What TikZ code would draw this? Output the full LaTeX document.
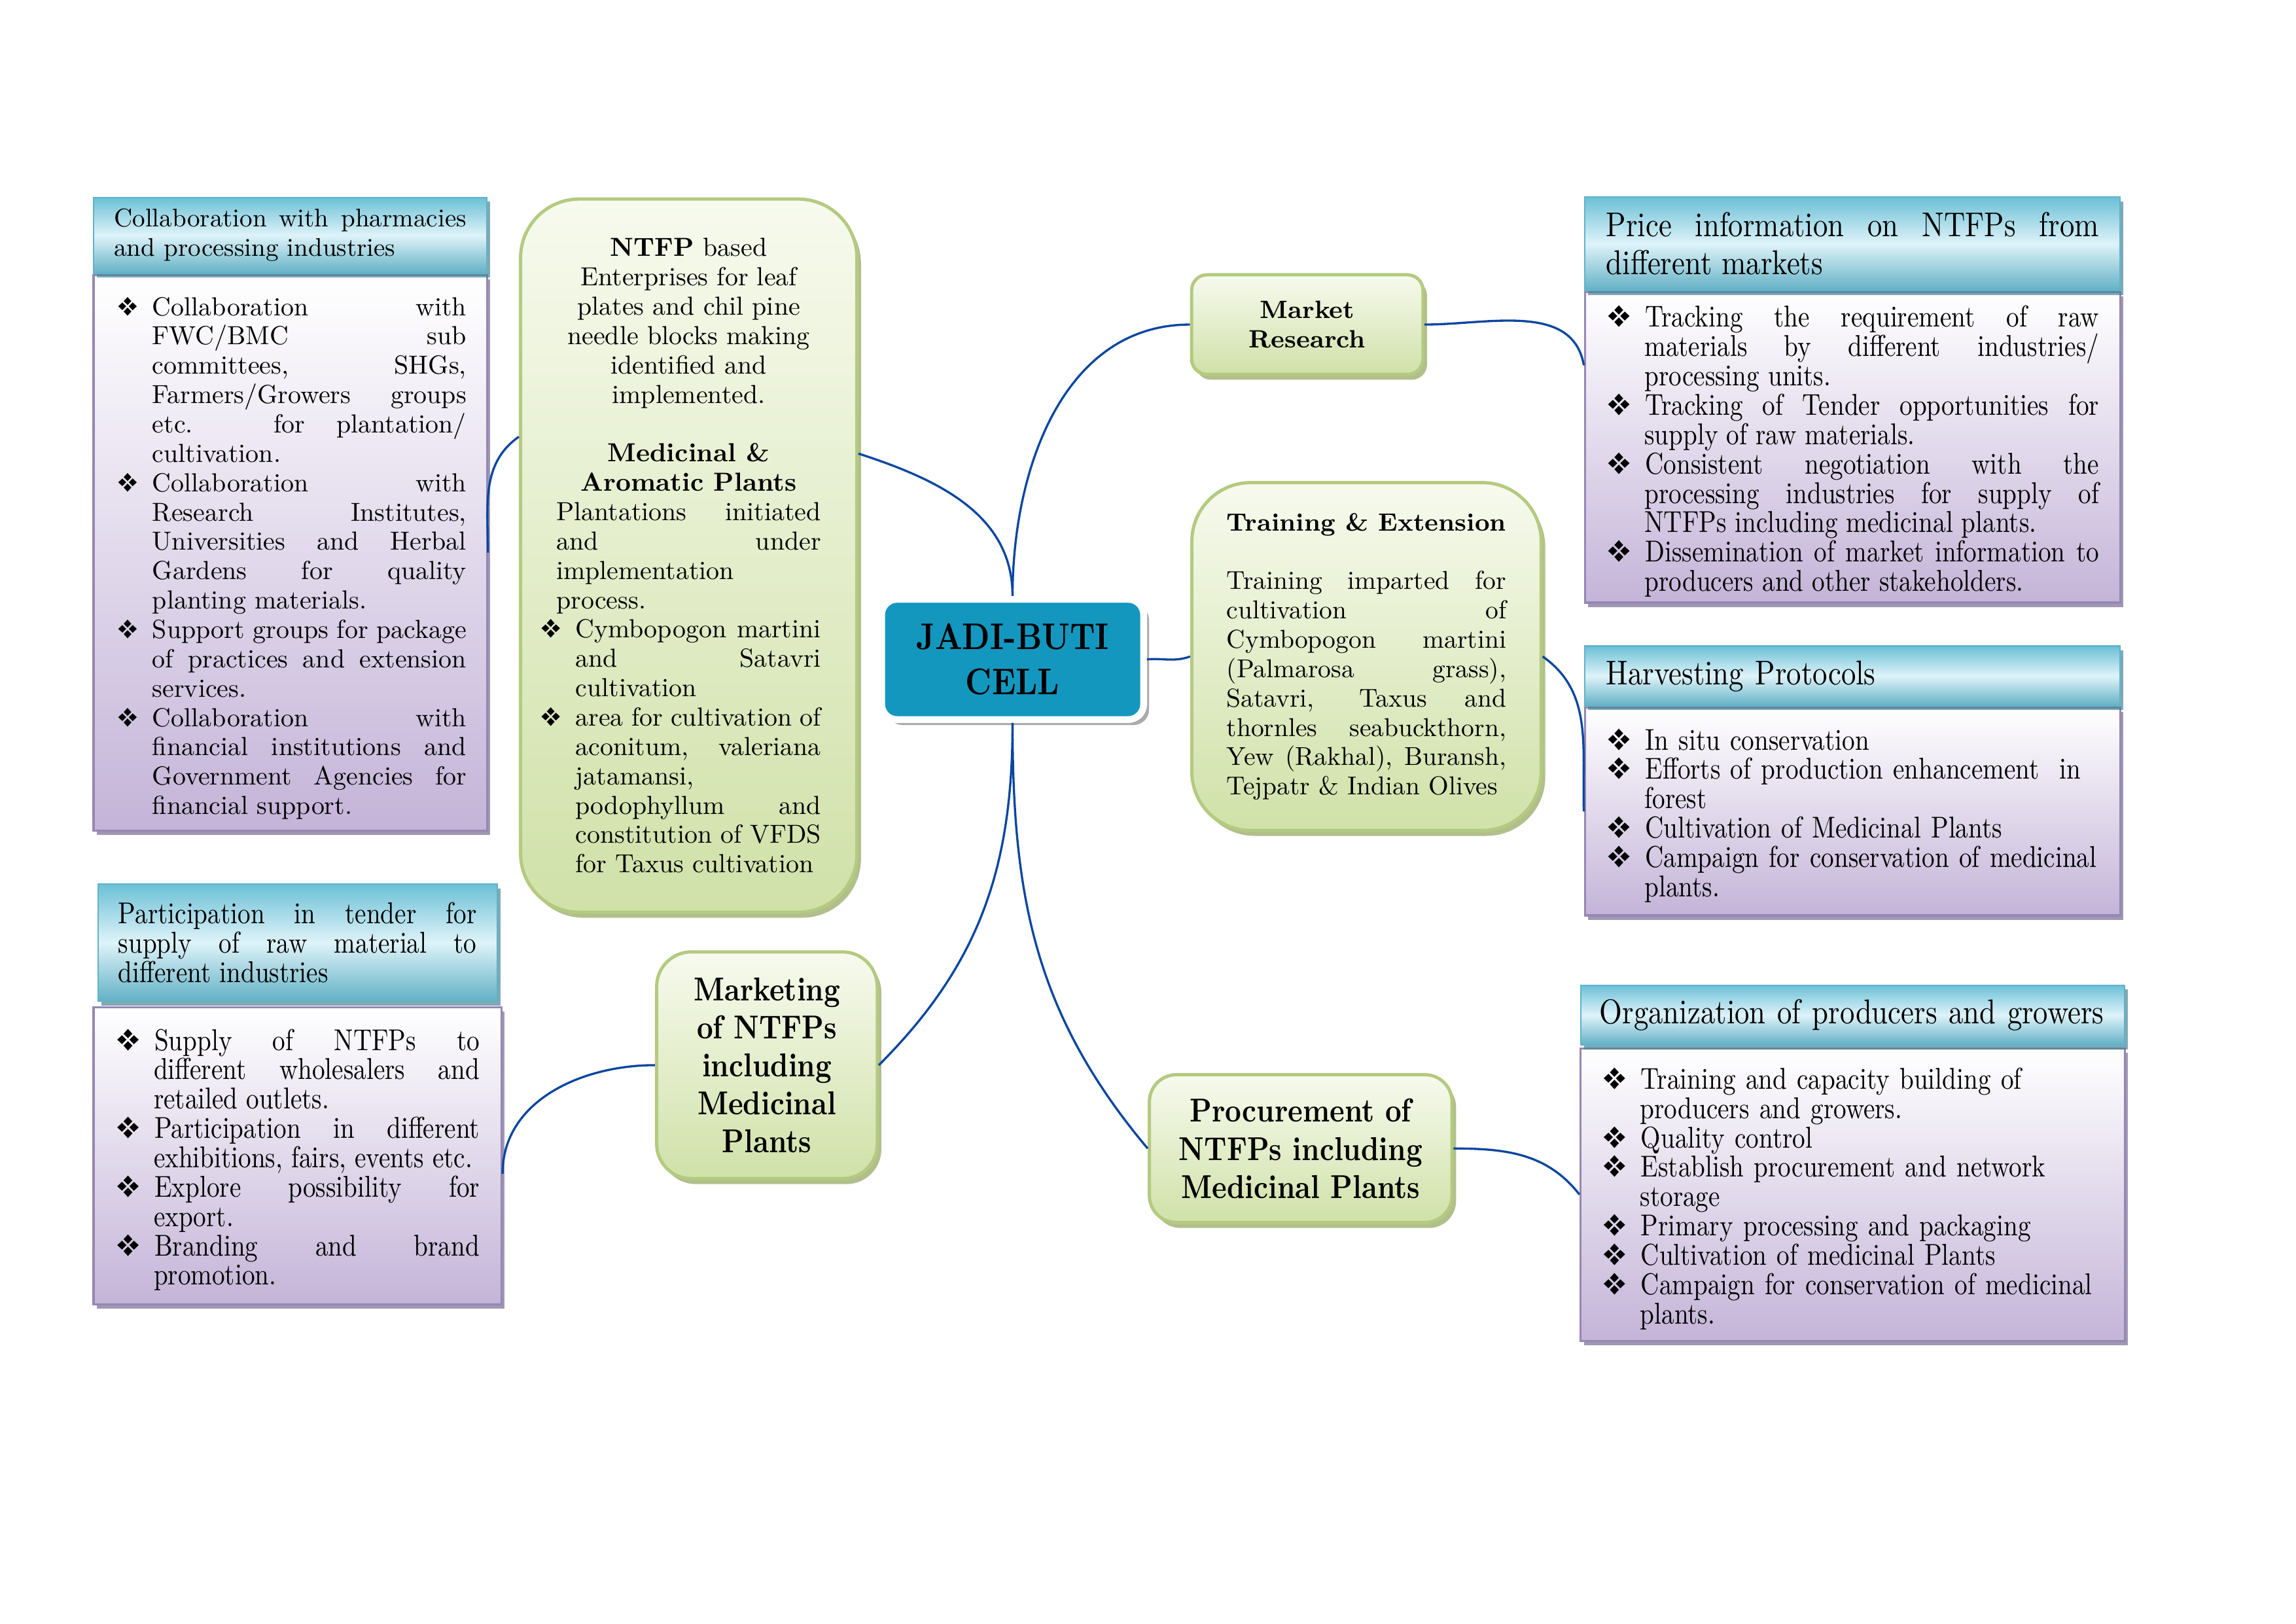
\documentclass[tikz,border=0pt]{standalone}
\usepackage{fontspec}
\usepackage{pifont}
\usetikzlibrary{positioning,shadows}
\newfontfamily\narrowfont{lmroman10}[Extension=.otf,UprightFont=*-regular,BoldFont=*-bold,ItalicFont=*-italic,BoldItalicFont=*-bolditalic,FakeStretch=0.85]

\definecolor{linkblue}{RGB}{10,70,160}
\definecolor{cyandark}{RGB}{108,192,214}
\definecolor{cyanlight}{RGB}{222,243,249}
\definecolor{cyanedge}{RGB}{96,178,202}
\definecolor{lilac}{RGB}{196,180,216}
\definecolor{lilacedge}{RGB}{150,135,180}
\definecolor{lilacshadow}{RGB}{135,125,160}
\definecolor{leaf}{RGB}{208,225,168}
\definecolor{leaftop}{RGB}{247,250,238}
\definecolor{leafedge}{RGB}{180,202,128}
\definecolor{leafshadow}{RGB}{158,176,112}
\definecolor{cellblue}{RGB}{20,151,191}

\newcommand{\txtfont}{\fontsize{9.7}{10.9}\selectfont}
\newcommand{\nartxt}{\narrowfont\fontsize{11.2}{10.9}\selectfont}
\newcommand{\nartitle}{\narrowfont\fontsize{12.8}{14.1}\selectfont}
\newenvironment{dmlist}[1][0.5cm]{\begin{list}{\ding{118}}{%
  \setlength{\leftmargin}{#1}\setlength{\labelsep}{0.19cm}%
  \setlength{\labelwidth}{0.3cm}\setlength{\itemindent}{0pt}%
  \setlength{\itemsep}{0pt}\setlength{\parsep}{0pt}%
  \setlength{\topsep}{0pt}\setlength{\partopsep}{0pt}}}{\end{list}}
\tolerance=10000
\hyphenpenalty=10000
\exhyphenpenalty=10000

\tikzset{
link/.style={draw=linkblue, line width=0.8pt},
titlebox/.style={draw=cyanedge, line width=0.5pt, top color=cyandark, bottom color=cyandark!92!black, middle color=cyanlight, inner ysep=0pt, align=justify, drop shadow={shadow xshift=1.2pt, shadow yshift=-1.6pt, fill=cyanedge!75!black, opacity=0.7}},
bodybox/.style={draw=lilacedge, line width=0.8pt, top color=white, bottom color=lilac, inner ysep=0pt, align=justify, drop shadow={shadow xshift=1.2pt, shadow yshift=-1.6pt, fill=lilacshadow, opacity=0.8}},
leafbox/.style={draw=leafedge, line width=1.2pt, top color=leaftop, bottom color=leaf, drop shadow={shadow xshift=1.5pt, shadow yshift=-2pt, fill=leafshadow, opacity=0.8}},
cellbox/.style={fill=cellblue, draw=white, line width=2.5pt, rounded corners=0.2cm, align=center, font=\narrowfont\bfseries\fontsize{13.8}{16.8}\selectfont, drop shadow={shadow xshift=2pt, shadow yshift=-2pt, fill=black!55, opacity=0.6}},
}

\begin{document}
\begin{tikzpicture}[scale=0.991, every node/.style={transform shape}]
    \fill[white] (0,0) rectangle (29.97,-21.19);
    \useasboundingbox (0,0) rectangle (29.97,-21.19);

    % centre
    \node[cellbox, minimum width=3.42cm, minimum height=1.57cm] (cell) at (13.218,-8.608) {JADI-BUTI\\CELL};

    % green boxes
    \node[leafbox, rounded corners=0.76cm, minimum width=4.39cm, minimum height=9.31cm, text width=3.455cm, align=justify, font=\txtfont] (ntfp) at (8.990,-7.253) {%
      {\centering \textbf{NTFP} based Enterprises for leaf plates and chil pine needle blocks making identified and implemented.\par}
      \vspace{10.9pt}
      {\centering\bfseries Medicinal \& Aromatic Plants\par}
      Plantations initiated\linebreak and under\linebreak implementation\linebreak process.
      \begin{dmlist}[0.25cm]
        \item Cymbopogon martini\linebreak and Satavri\linebreak cultivation
        \item area for cultivation of\linebreak aconitum, valeriana\linebreak jatamansi,\linebreak podophyllum and\linebreak constitution of VFDS\linebreak for Taxus cultivation
      \end{dmlist}};
    \node[leafbox, rounded corners=0.2cm, minimum width=3.02cm, minimum height=1.3cm, align=center, font=\bfseries\fontsize{9.3}{10.9}\selectfont] (market) at (17.064,-4.237) {Market\\Research};
    \node[leafbox, rounded corners=0.76cm, minimum width=4.56cm, minimum height=4.54cm, text width=3.65cm, align=justify, font=\fontsize{9.6}{10.9}\selectfont] (train) at (17.837,-8.570) {%
      {\centering\bfseries\fontsize{9.3}{10.9}\selectfont Training \& Extension\par}
      \vspace{10.9pt}
      Training imparted for\linebreak cultivation of\linebreak Cymbopogon martini\linebreak (Palmarosa grass),\linebreak Satavri, Taxus and\linebreak thornles seabuckthorn,\linebreak Yew (Rakhal), Buransh,\linebreak Tejpatr \& Indian Olives};
    \node[leafbox, rounded corners=0.45cm, minimum width=2.88cm, minimum height=2.96cm, align=center, font=\narrowfont\bfseries\fontsize{12.3}{14.1}\selectfont] (mkt) at (10.011,-13.905) {Marketing\\of NTFPs\\including\\Medicinal\\Plants};
    \node[leafbox, rounded corners=0.35cm, minimum width=3.95cm, minimum height=1.93cm, align=center, font=\narrowfont\bfseries\fontsize{12.3}{14.1}\selectfont] (proc) at (16.978,-14.993) {Procurement of\\NTFPs including\\Medicinal Plants};

    % left side lists
    \node[bodybox, text width=4.6cm, inner xsep=0.267cm, minimum height=7.25cm, font=\txtfont] (tlbody) at (3.789,-7.215) {%
      \begin{dmlist}
        \item Collaboration with\linebreak FWC/BMC sub\linebreak committees, SHGs,\linebreak Farmers/Growers groups\linebreak etc. for plantation/\linebreak cultivation.
        \item Collaboration with\linebreak Research Institutes,\linebreak Universities and Herbal\linebreak Gardens for quality\linebreak planting materials.
        \item Support groups for package\linebreak of practices and extension\linebreak services.
        \item Collaboration with\linebreak financial institutions and\linebreak Government Agencies for\linebreak financial support.
      \end{dmlist}};
    \node[titlebox, text width=4.6cm, inner xsep=0.267cm, minimum height=0.99cm, font=\fontsize{9.5}{10.9}\selectfont, above=0pt of tlbody] (tltitle) {Collaboration with pharmacies and processing industries};

    \node[bodybox, text width=4.753cm, inner xsep=0.286cm, minimum height=3.875cm, font=\nartxt] (partbody) at (3.884,-15.088) {%
      \begin{dmlist}
        \item Supply of NTFPs to\linebreak different wholesalers and\linebreak retailed outlets.
        \item Participation in different\linebreak exhibitions, fairs, events etc.
        \item Explore possibility for\linebreak export.
        \item Branding and brand\linebreak promotion.
      \end{dmlist}};
    \node[titlebox, text width=4.676cm, inner xsep=0.267cm, minimum height=1.527cm, font=\nartxt, above=0.06cm of partbody] (parttitle) {Participation in tender for supply of raw material to different industries};

    % right side lists
    \node[bodybox, text width=6.432cm, inner xsep=0.277cm, minimum height=4.05cm, font=\nartxt] (pricebody) at (24.183,-5.841) {%
      \begin{dmlist}
        \item Tracking the requirement of raw materials by different industries/ processing units.
        \item Tracking of Tender opportunities for supply of raw materials.
        \item Consistent negotiation with the processing industries for supply of NTFPs including medicinal plants.
        \item Dissemination of market information to producers and other stakeholders.
      \end{dmlist}};
    \node[titlebox, text width=6.432cm, inner xsep=0.277cm, minimum height=1.22cm, font=\nartitle, above=0pt of pricebody] (pricetitle) {Price information on NTFPs from different markets};

    \node[bodybox, text width=6.432cm, inner xsep=0.277cm, minimum height=2.71cm, align=left, font=\nartxt] (harvbody) at (24.183,-10.593) {%
      \begin{dmlist}
        \item In situ conservation
        \item Efforts of production enhancement \ in forest
        \item Cultivation of Medicinal Plants
        \item Campaign for conservation of medicinal plants.
      \end{dmlist}};
    \node[titlebox, text width=6.432cm, inner xsep=0.277cm, minimum height=0.78cm, align=left, font=\nartitle, above=0pt of harvbody] (harvtitle) {Harvesting Protocols};

    \node[bodybox, text width=6.547cm, inner xsep=0.277cm, minimum height=3.82cm, align=left, font=\nartxt] (orgbody) at (24.183,-15.594) {%
      \begin{dmlist}
        \item Training and capacity building of producers and growers.
        \item Quality control
        \item Establish procurement and network storage
        \item Primary processing and packaging
        \item Cultivation of medicinal Plants
        \item Campaign for conservation of medicinal plants.
      \end{dmlist}};
    \node[titlebox, text width=6.6cm, inner xsep=0.25cm, minimum height=0.78cm, align=left, font=\nartitle, above=0.02cm of orgbody] (orgtitle) {Organization of producers and growers};

    % connectors
    \draw[link] (cell.north) to[out=90,in=180] (market.west);
    \draw[link] (ntfp.31) to[out=-18,in=90] (cell.north);
    \draw[link] (cell.east) to[out=5,in=200] (train.west);
    \draw[link] (cell.south) to[out=-90,in=45] (mkt.east);
    \draw[link] (cell.south) to[out=-90,in=130] (proc.west);
    \draw[link] (market.east) to[out=0,in=100] (pricebody.163);
    \draw[link] (train.east) to[out=-35,in=92] (harvbody.west);
    \draw[link] (proc.east) to[out=0,in=128] (orgbody.west);
    \draw[link] (mkt.west) to[out=180,in=90] (partbody.-5);
    \draw[link] (ntfp.145) to[out=215,in=90] (tlbody.east);
\end{tikzpicture}
\end{document}
